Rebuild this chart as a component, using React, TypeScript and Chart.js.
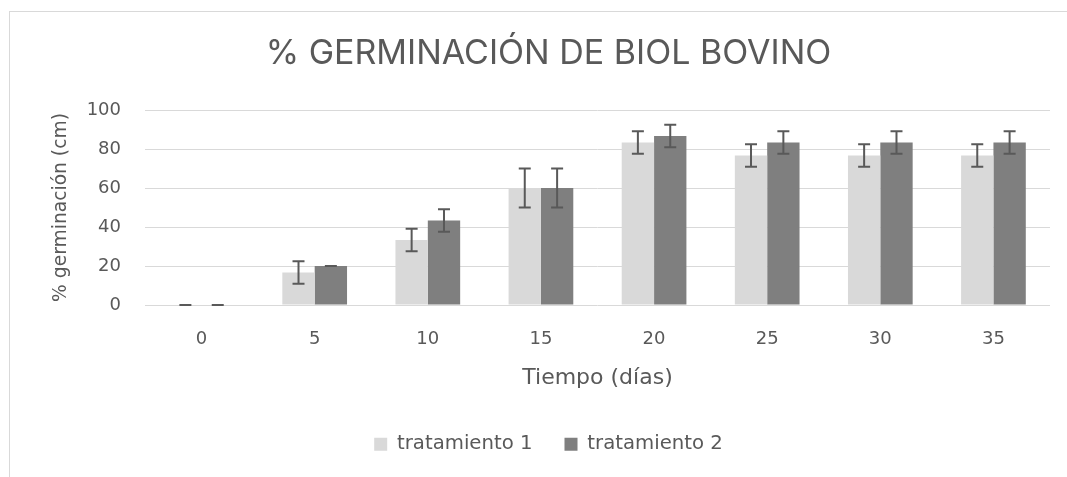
import { useEffect, useRef } from "react";
import { Chart, registerables } from "chart.js";

Chart.register(...registerables);

const categories = ["0", "5", "10", "15", "20", "25", "30", "35"];
const seriesNames = ["tratamiento 1", "tratamiento 2"];
const treatment1 = [0, 16.67, 33.33, 60, 83.33, 76.67, 76.67, 76.67];
const treatment2 = [0, 20, 43.33, 60, 86.67, 83.33, 83.33, 83.33];
const error1 = [0, 5.77, 5.77, 10, 5.77, 5.77, 5.77, 5.77];
const error2 = [0, 0, 5.77, 10, 5.77, 5.77, 5.77, 5.77];
const yMin = 0;
const yMax = 100;
const yStep = 20;

const TEXT = "#595959";
const GRID = "#d9d9d9";
const SMALL_FONT = "'DejaVu Sans', sans-serif";
const TITLE_FONT = "Inter, 'DejaVu Sans', sans-serif";

const errorsBySeries = [error1, error2];

const errorBarPlugin = {
  id: "errorBars",
  afterDatasetsDraw(chart: any) {
    const { ctx } = chart;
    const yScale = chart.scales.y;
    chart.data.datasets.forEach((ds: any, di: number) => {
      const meta = chart.getDatasetMeta(di);
      const errs = errorsBySeries[di];
      meta.data.forEach((bar: any, i: number) => {
        const v = ds.data[i];
        const e = errs[i];
        const top = yScale.getPixelForValue(v + e);
        const bot = yScale.getPixelForValue(v - e);
        const half = 6;
        ctx.save();
        ctx.strokeStyle = TEXT;
        ctx.lineWidth = 2;
        ctx.beginPath();
        ctx.moveTo(bar.x, top);
        ctx.lineTo(bar.x, bot);
        ctx.moveTo(bar.x - half, top);
        ctx.lineTo(bar.x + half, top);
        ctx.moveTo(bar.x - half, bot);
        ctx.lineTo(bar.x + half, bot);
        ctx.stroke();
        ctx.restore();
      });
    });
  },
};

export default function App() {
  const canvasRef = useRef<HTMLCanvasElement | null>(null);

  useEffect(() => {
    if (!canvasRef.current) return;
    const chart = new Chart(canvasRef.current, {
      type: "bar",
      data: {
        labels: categories,
        datasets: [
          {
            label: seriesNames[0],
            data: treatment1,
            backgroundColor: "#d9d9d9",
            borderWidth: 0,
            categoryPercentage: 0.572,
            barPercentage: 1.0,
          },
          {
            label: seriesNames[1],
            data: treatment2,
            backgroundColor: "#7f7f7f",
            borderWidth: 0,
            categoryPercentage: 0.572,
            barPercentage: 1.0,
          },
        ],
      },
      options: {
        responsive: false,
        animation: false,
        devicePixelRatio: 1,
        layout: { padding: { left: 47, right: 17, top: 0, bottom: 13 } },
        plugins: {
          title: {
            display: true,
            text: "% GERMINACIÓN DE BIOL BOVINO",
            color: TEXT,
            font: { family: TITLE_FONT, size: 34, weight: "normal" },
            padding: { top: 33, bottom: 36.2 },
          },
          legend: {
            display: true,
            position: "bottom",
            labels: {
              color: TEXT,
              font: { family: SMALL_FONT, size: 19.7 },
              boxWidth: 13,
              boxHeight: 13,
              padding: 32,
            },
          },
          tooltip: { enabled: false },
        },
        scales: {
          x: {
            grid: { display: false },
            border: { display: false },
            ticks: {
              color: TEXT,
              font: { family: SMALL_FONT, size: 18 },
              padding: 16,
            },
            title: {
              display: true,
              text: "Tiempo (días)",
              color: TEXT,
              font: { family: SMALL_FONT, size: 22 },
              padding: { top: 0, bottom: 11.1 },
            },
            afterFit(scale: any) {
              scale.height = 97.3;
            },
          },
          y: {
            min: yMin,
            max: yMax,
            grid: { color: GRID, lineWidth: 1, drawTicks: false },
            border: { display: false },
            ticks: {
              stepSize: yStep,
              color: TEXT,
              font: { family: SMALL_FONT, size: 18 },
              padding: 24,
            },
            title: {
              display: true,
              text: "% germinación (cm)",
              color: TEXT,
              font: { family: SMALL_FONT, size: 18.7 },
              padding: { top: 2.8, bottom: 0 },
            },
            afterFit(scale: any) {
              scale.width = 98;
            },
          },
        },
      },
      plugins: [errorBarPlugin],
    });
    return () => chart.destroy();
  }, []);

  return (
    <div style={{ position: "absolute", left: 0, top: 0, width: 1067, height: 477, background: "#fff" }}>
      <div
        style={{
          position: "absolute",
          left: 9,
          top: 11,
          width: 1070,
          height: 480,
          borderTop: `1px solid ${GRID}`,
          borderLeft: `1px solid ${GRID}`,
        }}
      />
      <canvas
        ref={canvasRef}
        width={1067}
        height={477}
        style={{ position: "absolute", left: 0, top: 0, width: 1067, height: 477 }}
      />
    </div>
  );
}
